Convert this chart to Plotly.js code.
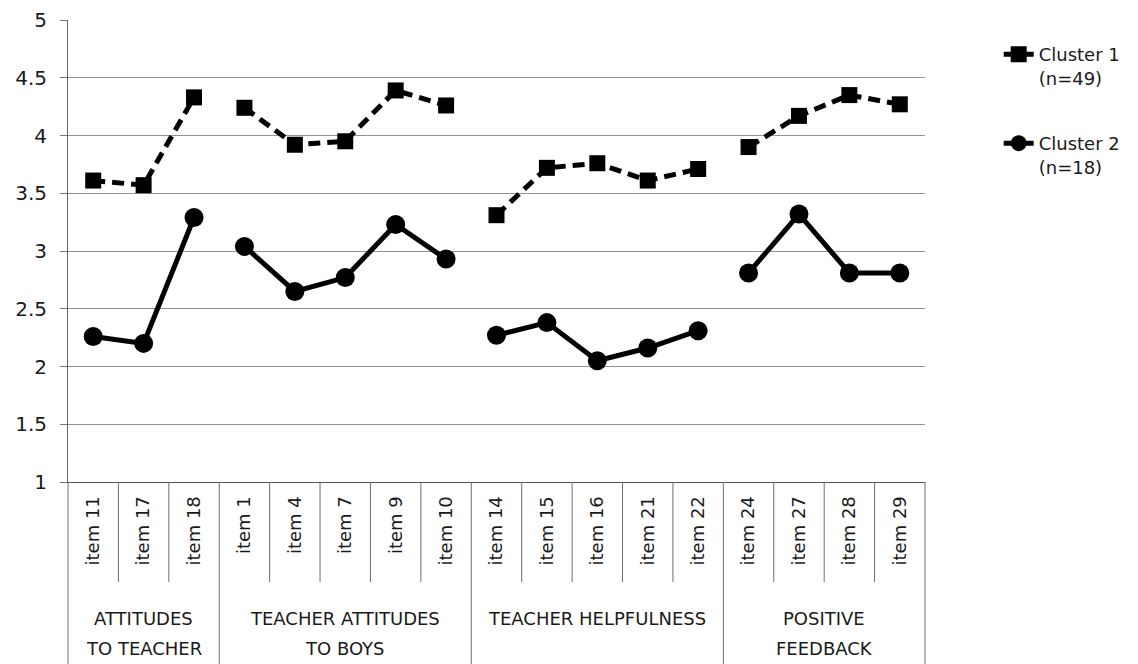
<!DOCTYPE html>
<html>
<head>
<meta charset="utf-8">
<script src="https://cdn.plot.ly/plotly-3.0.1.min.js"></script>
<style>html,body{margin:0;padding:0;background:#fff;}#chart{width:1138px;height:664px;}</style>
</head>
<body>
<div id="chart"></div>
<script>
// ---- data ----
var items = ["item 11","item 17","item 18",
             "item 1","item 4","item 7","item 9","item 10",
             "item 14","item 15","item 16","item 21","item 22",
             "item 24","item 27","item 28","item 29"];
var groupNames = ["ATTITUDES<br>TO TEACHER","TEACHER ATTITUDES<br>TO BOYS","TEACHER HELPFULNESS","POSITIVE<br>FEEDBACK"];
var groupSizes = [3, 5, 5, 4];
var cluster1 = [3.61, 3.57, 4.33, 4.24, 3.92, 3.95, 4.39, 4.26, 3.31, 3.72, 3.76, 3.61, 3.71, 3.90, 4.17, 4.35, 4.27];
var cluster2 = [2.26, 2.20, 3.29, 3.04, 2.65, 2.77, 3.23, 2.93, 2.27, 2.38, 2.05, 2.16, 2.31, 2.81, 3.32, 2.81, 2.81];
var seriesNames = ["Cluster 1<br>(n=49)", "Cluster 2<br>(n=18)"];
var yTicks = [1, 1.5, 2, 2.5, 3, 3.5, 4, 4.5, 5];

// ---- build broken series (gap between groups) ----
function broken(vals) {
  var xs = [], ys = [], k = 0;
  groupSizes.forEach(function (n, g) {
    for (var i = 0; i < n; i++) { xs.push(k); ys.push(vals[k]); k++; }
    if (g < groupSizes.length - 1) { xs.push(k - 0.5); ys.push(null); }
  });
  return {x: xs, y: ys};
}
var s1 = broken(cluster1), s2 = broken(cluster2);
var idx = items.map(function (_, i) { return i; });

var FONT = "'DejaVu Sans', sans-serif";
var TXT = "#1a1a1a";

var traces = [
  {x: s1.x, y: s1.y, name: seriesNames[0], type: "scatter", mode: "lines+markers",
   connectgaps: false, legendgroup: "c1",
   line: {color: "#000", width: 5, dash: "12px,7px"},
   marker: {symbol: "square", size: 16, color: "#000"}},
  {x: s2.x, y: s2.y, name: seriesNames[1], type: "scatter", mode: "lines+markers",
   connectgaps: false, legendgroup: "c2",
   line: {color: "#000", width: 5},
   marker: {symbol: "circle", size: 19, color: "#000"}}
];

// ---- separators below the axis ----
var shapes = [];
var SEP = "#6e6e6e";
var boundaryIsGroup = {};
var acc = 0;
groupSizes.forEach(function (n) { acc += n; boundaryIsGroup[acc] = true; });
for (var b = 1; b < items.length; b++) {
  shapes.push({type: "line", xref: "x", yref: "paper", ysizemode: "pixel", yanchor: 0,
    x0: b - 0.5, x1: b - 0.5, y0: 0, y1: boundaryIsGroup[b] ? -190 : -100,
    line: {color: SEP, width: 1}});
}
[0, 1].forEach(function (px) {
  shapes.push({type: "line", xref: "paper", yref: "paper", ysizemode: "pixel", yanchor: 0,
    x0: px, x1: px, y0: 0, y1: -190, line: {color: SEP, width: 1}});
});

// ---- group labels ----
var annotations = [];
var start = 0;
groupSizes.forEach(function (n, g) {
  var center = start + (n - 1) / 2;
  groupNames[g].split("<br>").forEach(function (line, li) {
    annotations.push({xref: "x", yref: "paper", x: center, y: 0, yanchor: "middle",
      yshift: -136 - li * 30, text: line, showarrow: false,
      font: {family: FONT, size: 18, color: TXT}});
  });
  start += n;
});

var layout = {
  width: 1138, height: 664,
  margin: {l: 68, r: 208, t: 20, b: 182},
  paper_bgcolor: "#fff", plot_bgcolor: "#fff",
  font: {family: FONT, color: TXT},
  showlegend: true,
  legend: {x: 1.086, xanchor: "left", y: 0.965, yanchor: "top",
    font: {family: FONT, size: 18, color: TXT}, valign: "top",
    tracegroupgap: 39, bgcolor: "rgba(0,0,0,0)"},
  xaxis: {
    type: "linear", range: [-0.5, items.length - 0.5],
    tickmode: "array", tickvals: idx, ticktext: items, tickangle: -90,
    tickfont: {family: FONT, size: 18, color: TXT},
    ticks: "", ticklabelstandoff: 6,
    showgrid: false, zeroline: false,
    showline: true, linecolor: "#555", linewidth: 1, fixedrange: true
  },
  yaxis: {
    range: [1, 5], tickmode: "array", tickvals: yTicks,
    tickfont: {family: FONT, size: 20, color: TXT},
    ticks: "outside", ticklen: 7, tickcolor: "#777", ticklabelstandoff: 9,
    showgrid: true, gridcolor: "#939393", gridwidth: 1,
    zeroline: false, showline: true, linecolor: "#666", linewidth: 1, fixedrange: true
  },
  shapes: shapes,
  annotations: annotations
};

Plotly.newPlot("chart", traces, layout, {displayModeBar: false, staticPlot: true});
</script>
</body>
</html>
